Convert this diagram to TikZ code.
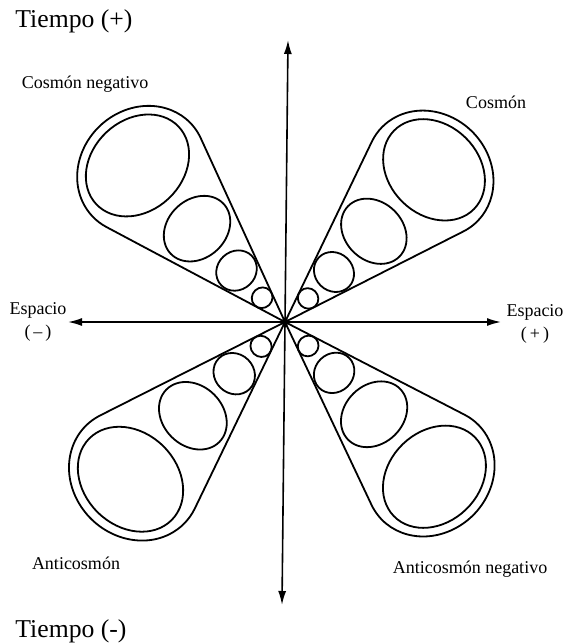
\documentclass[tikz,border=0pt]{standalone}
\usepackage{fontspec}
\setmainfont{Liberation Serif}
\usetikzlibrary{arrows.meta}

\begin{document}
\begin{tikzpicture}[
  x=0.5pt, y=-0.5pt,
  font=\fontsize{9}{11.5}\selectfont,
  axis/.style={{Latex[length=7pt,width=4pt]}-{Latex[length=7pt,width=4pt]},
               line width=0.8pt},
  lobe/.style={draw, line width=0.9pt},
  blob/.style={draw, line width=0.9pt},
  lbl/.style={align=center, inner sep=0pt},
  big/.style={font=\fontsize{12.85}{15}\selectfont, inner sep=0pt,
              anchor=base west}
]
  \useasboundingbox (0,0) rectangle (569,644);

  % axes
  \coordinate (o) at (285,322);
  \coordinate (tpos) at (288,40);
  \coordinate (tneg) at (282,605);
  \coordinate (eneg) at (68,322);
  \coordinate (epos) at (501,322);
  \draw[axis] (tneg) -- (tpos);
  \draw[axis] (eneg) -- (epos);

  % the four lobes, tip at the origin
  \foreach \ang/\s in {45.6/1, 133.3/1.01, 225.5/1.035, -46/1.01} {
    \begin{scope}[shift={(o)}, rotate=\ang, scale=\s]
      \draw[lobe] (0,0) -- (189.6,64.1)
        arc[start angle=106.85, end angle=-106.85,
            x radius=60, y radius=67] -- cycle;
      \draw[blob] (213,0) ellipse[x radius=45, y radius=56];
      \draw[blob] (127,0) ellipse[x radius=29, y radius=36];
      \draw[blob] (70,0) ellipse[x radius=19, y radius=21];
      \draw[blob] (33,0) ellipse[x radius=10, y radius=10.5];
    \end{scope}
  }

  % labels
  \node[big] (tp) at (15,27) {Tiempo (+)};
  \node[big] (tn) at (15,637) {Tiempo (-)};
  \node[lbl] (cn) at (85,84) {Cosmón negativo};
  \node[lbl] (c) at (496,102) {Cosmón};
  \node[lbl] (ac) at (76,563) {Anticosmón};
  \node[lbl] (acn) at (470,569) {Anticosmón negativo};
  \node[lbl] (en) at (38,322) {Espacio\\(\,–\,)};
  \node[lbl] (ep) at (535,324) {Espacio\\(\,+\,)};
\end{tikzpicture}
\end{document}
